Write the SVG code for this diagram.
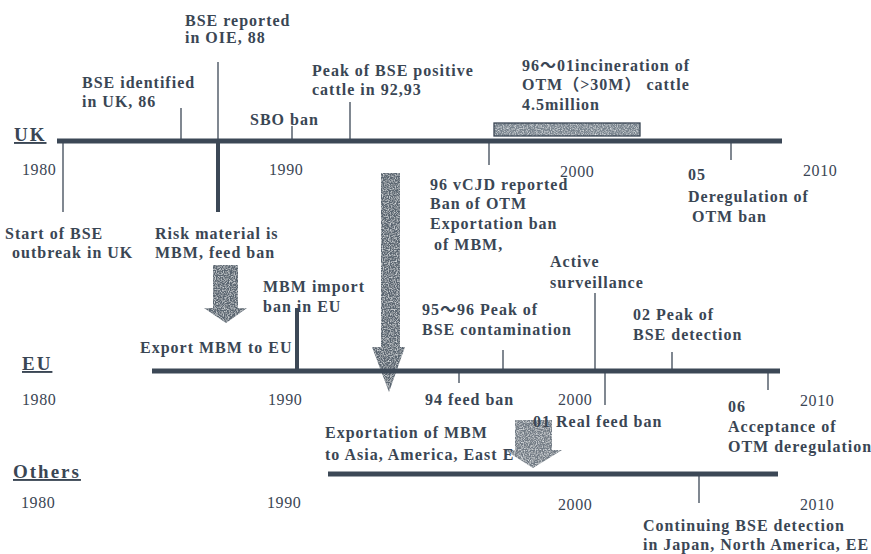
<svg xmlns="http://www.w3.org/2000/svg" width="871" height="554" viewBox="0 0 871 554">
<defs>
<style>
text{font-family:"Liberation Serif","Times New Roman","Noto Sans CJK JP",serif;fill:#3a4654;}
.t{font-size:16px;font-weight:bold;letter-spacing:1px;}
.y{font-size:16px;font-weight:normal;letter-spacing:0.6px;}
.h{font-size:19px;font-weight:bold;letter-spacing:2px;text-decoration:underline;}
.axis{stroke:#3c4856;stroke-width:5;fill:none;}
.tick{stroke:#3c4856;stroke-width:1.3;fill:none;}
.thick{stroke:#3c4856;stroke-width:4;fill:none;}
.arrow{fill:#5a6570;filter:url(#grain);}
</style>
<filter id="grain" x="0" y="0" width="1" height="1">
<feTurbulence type="fractalNoise" baseFrequency="0.85" numOctaves="2" seed="4" result="noise"/>
<feColorMatrix in="noise" type="matrix" values="0 0 0 0 0.85  0 0 0 0 0.88  0 0 0 0 0.9  1.8 0 0 0 -0.75" result="speck"/>
<feComposite in="speck" in2="SourceGraphic" operator="in" result="speckIn"/>
<feMerge><feMergeNode in="SourceGraphic"/><feMergeNode in="speckIn"/></feMerge>
</filter>
</defs>
<rect width="871" height="554" fill="#ffffff"/>

<g id="arrows">
<polygon class="arrow" points="381,173 400,173 400,347 405,347 389,392 372,347 381,347"/>
<polygon class="arrow" points="213,265 238,265 238,308 247,308 226,323 204,308 213,308"/>
<polygon class="arrow" points="515,420 552,420 552,450 562,450 533,468 505,450 515,450" opacity="0.85"/>
</g>

<g id="connectors">
<line class="axis" x1="57" y1="141" x2="782" y2="141"/>
<line class="axis" x1="152" y1="371" x2="780" y2="371"/>
<line class="axis" x1="328" y1="474" x2="778" y2="474"/>
<line class="tick" x1="63" y1="143" x2="63" y2="212"/>
<line class="tick" x1="181" y1="108" x2="181" y2="139"/>
<line class="tick" x1="218" y1="62" x2="218" y2="139"/>
<line class="thick" x1="218" y1="143" x2="218" y2="212"/>
<line class="tick" x1="292" y1="126" x2="292" y2="139"/>
<line class="tick" x1="350" y1="102" x2="350" y2="139"/>
<line class="tick" x1="489" y1="143" x2="489" y2="165"/>
<line class="tick" x1="731" y1="143" x2="731" y2="160"/>
<line class="thick" x1="297" y1="308" x2="297" y2="369"/>
<line class="tick" x1="503" y1="350" x2="503" y2="369"/>
<line class="tick" x1="595" y1="293" x2="595" y2="369"/>
<line class="tick" x1="672" y1="352" x2="672" y2="369"/>
<line class="tick" x1="459" y1="373" x2="459" y2="383"/>
<line class="tick" x1="605" y1="373" x2="605" y2="405"/>
<line class="tick" x1="768" y1="373" x2="768" y2="390"/>
<line class="tick" x1="699" y1="476" x2="699" y2="503"/>
</g>

<g id="incineration-bar">
<rect class="arrow" x="494" y="123" width="146" height="13" style="filter:url(#grain);fill:#78838d"/>
<rect x="494" y="123" width="146" height="13" fill="none" stroke="#3a4654" stroke-width="1.3"/>
</g>

<g id="uk">
<text class="h" x="14" y="141">UK</text>
<text class="y" x="22" y="175">1980</text>
<text class="y" x="269" y="175">1990</text>
<text class="y" x="560" y="177">2000</text>
<text class="y" x="803" y="176">2010</text>
</g>
<g id="uk-bse-reported"><text class="t" x="185" y="26">BSE reported</text><text class="t" x="185" y="43">in OIE, 88</text></g>
<g id="uk-bse-identified"><text class="t" x="82" y="88">BSE identified</text><text class="t" x="82" y="107">in UK, 86</text></g>
<g id="uk-sbo"><text class="t" x="250" y="125">SBO ban</text></g>
<g id="uk-peak"><text class="t" x="312" y="76">Peak of BSE positive</text><text class="t" x="312" y="95">cattle in 92,93</text></g>
<g id="uk-incineration"><text class="t" x="522" y="71">96～01incineration of</text><text class="t" x="522" y="90">OTM（&gt;30M） cattle</text><text class="t" x="522" y="110">4.5million</text></g>
<g id="uk-start"><text class="t" x="5" y="239">Start of BSE</text><text class="t" x="12" y="258">outbreak in UK</text></g>
<g id="uk-risk"><text class="t" x="155" y="239">Risk material is</text><text class="t" x="155" y="258">MBM, feed ban</text></g>
<g id="uk-vcjd"><text class="t" x="430" y="190">96 vCJD reported</text><text class="t" x="430" y="209">Ban of OTM</text><text class="t" x="430" y="229">Exportation ban</text><text class="t" x="434" y="250">of MBM,</text></g>
<g id="uk-dereg"><text class="t" x="688" y="180">05</text><text class="t" x="688" y="202">Deregulation of</text><text class="t" x="692" y="222">OTM ban</text></g>

<g id="eu">
<text class="h" x="22" y="370">EU</text>
<text class="y" x="22" y="405">1980</text>
<text class="y" x="268" y="405">1990</text>
<text class="y" x="558" y="405">2000</text>
<text class="y" x="800" y="406">2010</text>
</g>
<g id="eu-import-ban"><text class="t" x="263" y="292">MBM import</text><text class="t" x="263" y="312">ban in EU</text></g>
<g id="eu-export"><text class="t" x="140" y="353">Export MBM to EU</text></g>
<g id="eu-active"><text class="t" x="550" y="267">Active</text><text class="t" x="550" y="288">surveillance</text></g>
<g id="eu-peak-contam"><text class="t" x="422" y="315">95～96 Peak of</text><text class="t" x="422" y="335">BSE contamination</text></g>
<g id="eu-peak-detect"><text class="t" x="633" y="320">02 Peak of</text><text class="t" x="633" y="340">BSE detection</text></g>
<g id="eu-feedban"><text class="t" x="425" y="405">94 feed ban</text></g>
<g id="eu-realban"><text class="t" x="533" y="427">01 Real feed ban</text></g>
<g id="eu-accept"><text class="t" x="728" y="412">06</text><text class="t" x="728" y="432">Acceptance of</text><text class="t" x="728" y="452">OTM deregulation</text></g>
<g id="eu-exportation"><text class="t" x="325" y="438">Exportation of MBM</text><text class="t" x="325" y="460">to Asia, America, East E</text></g>

<g id="others">
<text class="h" x="13" y="478">Others</text>
<text class="y" x="21" y="508">1980</text>
<text class="y" x="267" y="508">1990</text>
<text class="y" x="558" y="510">2000</text>
<text class="y" x="800" y="510">2010</text>
</g>
<g id="others-continuing"><text class="t" x="643" y="531">Continuing BSE detection</text><text class="t" x="643" y="550">in Japan, North America, EE</text></g>
</svg>
